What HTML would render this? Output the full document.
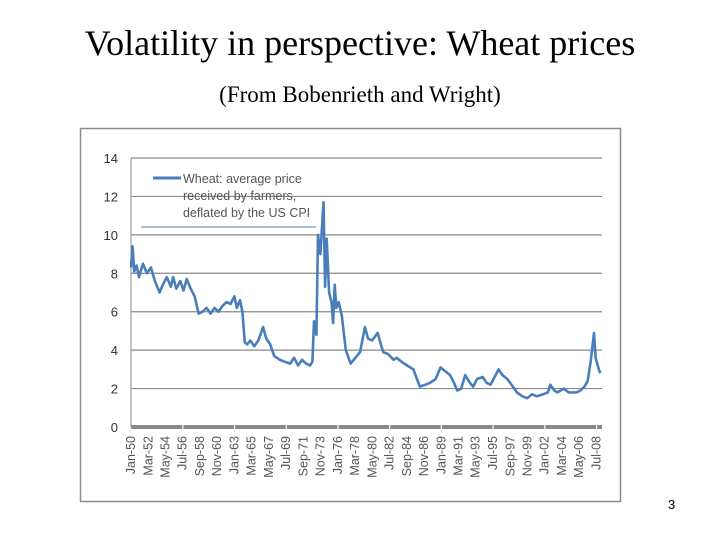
<!DOCTYPE html>
<html><head><meta charset="utf-8"><style>
body{margin:0;width:720px;height:540px;background:#fff;overflow:hidden;position:relative;font-family:"Liberation Serif",serif}
.t{position:absolute;left:0;width:720px;text-align:center;color:#000}
</style></head><body>
<div class="t" style="top:22px;font-size:36px;">Volatility in perspective: Wheat prices</div>
<div class="t" style="top:82px;font-size:23px;">(From Bobenrieth and Wright)</div>
<div style="position:absolute;left:668px;top:497px;font:13px 'Liberation Sans',sans-serif;">3</div>
<svg id="chart" width="720" height="540" style="position:absolute;left:0;top:0">
<rect x="80.5" y="128.5" width="540" height="373" fill="none" stroke="#8c8c8c" stroke-width="1.5"/>
</svg>
<script>
const years=[1950,1950.2,1950.4,1950.7,1951,1951.5,1952,1952.5,1953,1953.6,1954,1954.5,1955,1955.3,1955.7,1956.2,1956.6,1957,1957.5,1958,1958.5,1959,1959.5,1960,1960.5,1961,1961.5,1962,1962.5,1963,1963.3,1963.7,1964,1964.3,1964.6,1965,1965.5,1966,1966.6,1967,1967.5,1968,1968.7,1969.3,1970,1970.5,1971,1971.5,1972,1972.5,1972.8,1973,1973.3,1973.5,1973.8,1974.2,1974.4,1974.6,1974.9,1975.2,1975.4,1975.6,1975.8,1976.1,1976.5,1977,1977.6,1978.2,1978.8,1979.4,1979.8,1980.3,1981,1981.7,1982.3,1983,1983.4,1984,1984.7,1985.5,1986.3,1987,1987.6,1988.3,1988.9,1989.5,1990.1,1990.6,1991,1991.5,1992,1992.6,1993,1993.5,1994.2,1994.7,1995.2,1995.7,1996.2,1996.7,1997.3,1998,1998.5,1999.2,1999.8,2000.4,2001,2001.8,2002.4,2002.7,2003.2,2003.6,2004,2004.4,2005,2005.6,2006,2006.5,2007,2007.4,2007.8,2008.2,2008.4,2008.6,2008.8,2009];
const prices=[8.3,9.4,8.1,8.4,7.8,8.5,8.0,8.3,7.6,7.0,7.4,7.8,7.3,7.8,7.2,7.6,7.1,7.7,7.2,6.8,5.9,6.0,6.2,5.9,6.2,6.0,6.3,6.5,6.4,6.8,6.2,6.6,6.0,4.4,4.3,4.5,4.2,4.5,5.2,4.6,4.3,3.7,3.5,3.4,3.3,3.6,3.2,3.5,3.3,3.2,3.4,5.5,4.8,10.0,9.0,11.7,7.3,9.8,7.0,6.5,5.4,7.4,6.2,6.5,5.8,4.0,3.3,3.6,3.9,5.2,4.6,4.5,4.9,3.9,3.8,3.5,3.6,3.4,3.2,3.0,2.1,2.2,2.3,2.5,3.1,2.9,2.7,2.3,1.9,2.0,2.7,2.3,2.1,2.5,2.6,2.3,2.2,2.6,3.0,2.7,2.5,2.1,1.8,1.6,1.5,1.7,1.6,1.7,1.8,2.2,1.9,1.8,1.9,2.0,1.8,1.8,1.8,1.9,2.1,2.4,3.5,4.9,3.6,3.3,3.0,2.8];
const yTicks=[0,2,4,6,8,10,12,14];
const xLabels=["Jan-50","Mar-52","May-54","Jul-56","Sep-58","Nov-60","Jan-63","Mar-65","May-67","Jul-69","Sep-71","Nov-73","Jan-76","Mar-78","May-80","Jul-82","Sep-84","Nov-86","Jan-89","Mar-91","May-93","Jul-95","Sep-97","Nov-99","Jan-02","Mar-04","May-06","Jul-08"];
const labelYears=[1950,1952.17,1954.33,1956.5,1958.67,1960.83,1963,1965.17,1967.33,1969.5,1971.67,1973.83,1976,1978.17,1980.33,1982.5,1984.67,1986.83,1989,1991.17,1993.33,1995.5,1997.67,1999.83,2002,2004.17,2006.33,2008.5];
const NS="http://www.w3.org/2000/svg";
const svg=document.getElementById('chart');
const X0=131,X1=602,Y0=427,Y1=158;
const sx=v=>X0+(v-1950)*(X1-X0)/(2009.2-1950);
const sy=v=>Y0-(v/14)*(Y0-Y1);
function mk(t,a){const e=document.createElementNS(NS,t);for(const k in a)e.setAttribute(k,a[k]);svg.appendChild(e);return e;}
yTicks.forEach(t=>{
 if(t>0){const g=mk('line',{x1:X0,x2:X1,y1:sy(t),y2:sy(t),stroke:'#8a8a8a','stroke-width':1.2});
 
 }
 const l=mk('text',{x:118,y:sy(t)+5,'text-anchor':'end','font-family':'Liberation Sans, sans-serif','font-size':13,fill:'#333'});
 l.textContent=t;
 
 
});
const va=mk('line',{x1:X0,x2:X0,y1:Y1,y2:Y0,stroke:'#8a8a8a','stroke-width':1});


const xa=mk('rect',{x:X0,y:Y0-2,width:X1-X0,height:4,fill:'#8a8a8a'});


labelYears.forEach((yr,i)=>{
 const x=sx(yr);
 if(i%3===0&&i>0){const g=mk('rect',{x:x-0.5,y:Y0-3,width:1.2,height:6,fill:'#fff'});
 
 }
 const l=mk('text',{transform:`translate(${x+4},436) rotate(-90)`,'text-anchor':'end','font-family':'Liberation Sans, sans-serif','font-size':12.5,fill:'#555'});
 l.textContent=xLabels[i];
 
 
});
let d='';years.forEach((y,i)=>{d+=(i?'L':'M')+sx(y).toFixed(1)+','+sy(prices[i]).toFixed(1);});
const p=mk('path',{d:d,fill:'none',stroke:'#4a7ebb','stroke-width':2.6,'stroke-linejoin':'round'});


const ll=mk('line',{x1:141,x2:316,y1:227,y2:227,stroke:'#4a7ebb','stroke-width':1});


const ls=mk('line',{x1:153,x2:181,y1:178,y2:178,stroke:'#4a7ebb','stroke-width':3});


["Wheat: average price","received by farmers,","deflated by the US CPI"].forEach((s,i)=>{
 const t=mk('text',{x:183,y:183+i*17,'font-family':'Liberation Sans, sans-serif','font-size':12.5,fill:'#555'});
 t.textContent=s;
 
 
});
</script>
</body></html>
